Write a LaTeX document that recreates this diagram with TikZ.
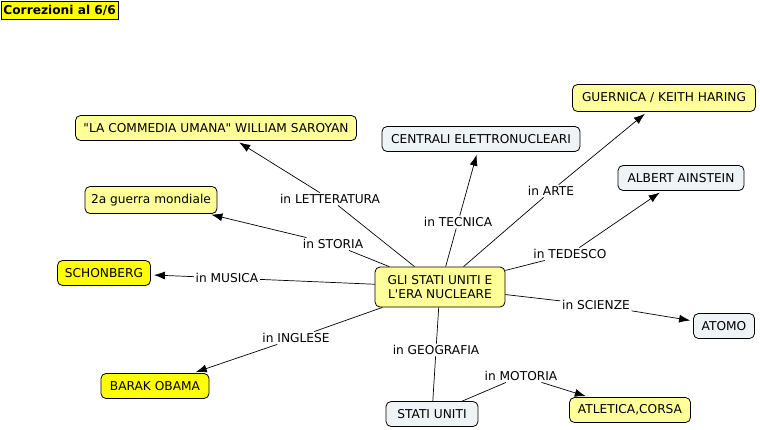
\documentclass[tikz,border=0pt]{standalone}
\usepackage{fontspec}
\setmainfont{DejaVu Sans}
\usepackage{tikz}
\usetikzlibrary{arrows.meta,positioning}
\definecolor{mapyellow}{HTML}{FFFF99}
\definecolor{mapgold}{HTML}{FFFF00}
\definecolor{mapgrey}{HTML}{EEF3F5}

\begin{document}
\begin{tikzpicture}[x=1pt,y=-1pt,font=\fontsize{12.2}{14.5}\selectfont,
  concept/.style={draw=black,line width=0.8pt,rounded corners=5pt,inner xsep=4pt,minimum height=25pt,align=center},
  pale/.style={concept,fill=mapyellow},
  gold/.style={concept,fill=mapgold},
  grey/.style={concept,fill=mapgrey},
  link/.style={fill=white,inner sep=1.5pt}]
  \useasboundingbox (0,0) rectangle (760,429);
  \node[draw,line width=0.8pt,fill=mapgold,inner sep=2.5pt,minimum width=117pt,minimum height=18.5pt,anchor=north west,font=\bfseries\fontsize{12.2}{14.5}\selectfont] (title) at (0.5,0.5) {Correzioni al 6/6};
  % concepts
  \node[pale,minimum height=40pt,minimum width=130pt] (main) at (440,287) {GLI STATI UNITI E\\L\textquotesingle ERA NUCLEARE};
  \node[pale,minimum width=281pt] (saroyan) at (216,128) {\textquotedbl LA COMMEDIA UMANA\textquotedbl{} WILLIAM SAROYAN};
  \node[pale,minimum width=132pt,minimum height=27pt] (guerra) at (151,200) {2a guerra mondiale};
  \node[gold,minimum width=93pt] (schonberg) at (104,273) {SCHONBERG};
  \node[gold,minimum width=108pt] (obama) at (155,386) {BARAK OBAMA};
  \node[grey,minimum width=198pt] (centrali) at (481,139) {CENTRALI ELETTRONUCLEARI};
  \node[pale,minimum width=183pt,minimum height=27pt] (guernica) at (664,98) {GUERNICA / KEITH HARING};
  \node[grey,minimum width=126pt] (einstein) at (681,178) {ALBERT AINSTEIN};
  \node[grey,minimum width=61pt] (atomo) at (724,326) {ATOMO};
  \node[grey,minimum width=92pt] (usa) at (432,414) {STATI UNITI};
  \node[pale,minimum width=121pt] (atletica) at (630,410) {ATLETICA,CORSA};
  % linking phrases
  \node[link] (lett) at (330,199) {in LETTERATURA};
  \node[link] (storia) at (333,244) {in STORIA};
  \node[link] (musica) at (227,278) {in MUSICA};
  \node[link] (inglese) at (296,338) {in INGLESE};
  \node[link] (geo) at (436,350) {in GEOGRAFIA};
  \node[link] (motoria) at (521,376) {in MOTORIA};
  \node[link] (tecnica) at (458,222) {in TECNICA};
  \node[link] (arte) at (551,191) {in ARTE};
  \node[link] (tedesco) at (570,254) {in TEDESCO};
  \node[link] (scienze) at (596,305) {in SCIENZE};
  \foreach \l/\t in {lett/saroyan,storia/guerra,musica/schonberg,inglese/obama,tecnica/centrali,arte/guernica,tedesco/einstein,scienze/atomo} {
    \draw[line width=0.7pt] (main) -- (\l);
    \draw[line width=0.7pt,-{Latex[length=11pt,width=8pt]},shorten >=3pt] (\l) -- (\t);
  }
  \draw[line width=0.7pt] (main) -- (geo) -- (usa);
  \draw[line width=0.7pt] (usa) -- (motoria);
  \draw[line width=0.7pt,-{Latex[length=11pt,width=8pt]},shorten >=3pt] (motoria) -- (atletica);
\end{tikzpicture}
\end{document}
